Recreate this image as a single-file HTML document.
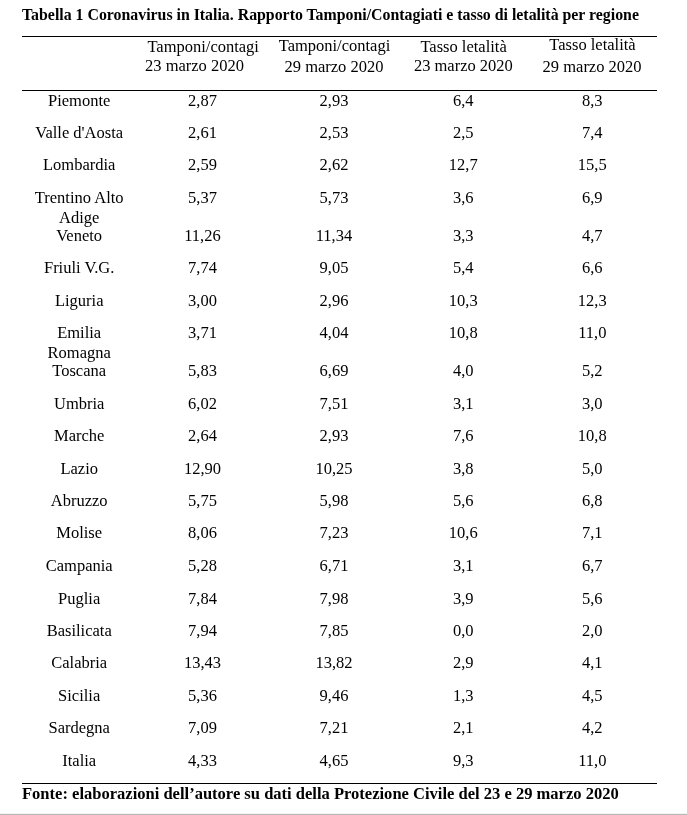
<!DOCTYPE html>
<html><head><meta charset="utf-8">
<style>
html,body{margin:0;padding:0;background:#fff;}
body{width:687px;height:815px;position:relative;overflow:hidden;font-family:"Liberation Serif",serif;color:#000;}
.t{position:absolute;text-align:center;font-size:16.5px;line-height:19.3px;white-space:nowrap;}
.b{position:absolute;font-weight:bold;white-space:nowrap;}
.ln{position:absolute;left:22px;width:635px;height:1px;background:#000;}
</style></head><body><div id="w" style="position:absolute;left:0;top:0;width:687px;height:815px;will-change:transform">
<div class="b" style="left:22px;top:6.45px;font-size:15.85px;line-height:18.4px">Tabella 1 Coronavirus in Italia. Rapporto Tamponi/Contagiati e tasso di letalità per regione</div>
<div class="ln" style="top:36px"></div>
<div class="ln" style="top:90px"></div>
<div class="ln" style="top:783px"></div>
<div class="t" style="left:123.20px;top:37.08px;width:160px;">Tamponi/contagi</div>
<div class="t" style="left:114.50px;top:55.68px;width:160px;">23 marzo 2020</div>
<div class="t" style="left:254.50px;top:35.98px;width:160px;">Tamponi/contagi</div>
<div class="t" style="left:254.00px;top:57.08px;width:160px;">29 marzo 2020</div>
<div class="t" style="left:383.60px;top:36.58px;width:160px;">Tasso letalità</div>
<div class="t" style="left:383.40px;top:56.08px;width:160px;">23 marzo 2020</div>
<div class="t" style="left:512.50px;top:35.28px;width:160px;">Tasso letalità</div>
<div class="t" style="left:512.10px;top:56.58px;width:160px;">29 marzo 2020</div>
<div class="t" style="left:14.20px;top:91.38px;width:130px;">Piemonte</div>
<div class="t" style="left:152.50px;top:91.38px;width:100px;">2,87</div>
<div class="t" style="left:284.00px;top:91.38px;width:100px;">2,93</div>
<div class="t" style="left:413.30px;top:91.38px;width:100px;">6,4</div>
<div class="t" style="left:542.30px;top:91.38px;width:100px;">8,3</div>
<div class="t" style="left:14.20px;top:123.38px;width:130px;">Valle d'Aosta</div>
<div class="t" style="left:152.50px;top:123.38px;width:100px;">2,61</div>
<div class="t" style="left:284.00px;top:123.38px;width:100px;">2,53</div>
<div class="t" style="left:413.30px;top:123.38px;width:100px;">2,5</div>
<div class="t" style="left:542.30px;top:123.38px;width:100px;">7,4</div>
<div class="t" style="left:14.20px;top:154.88px;width:130px;">Lombardia</div>
<div class="t" style="left:152.50px;top:154.88px;width:100px;">2,59</div>
<div class="t" style="left:284.00px;top:154.88px;width:100px;">2,62</div>
<div class="t" style="left:413.30px;top:154.88px;width:100px;">12,7</div>
<div class="t" style="left:542.30px;top:154.88px;width:100px;">15,5</div>
<div class="t" style="left:14.20px;top:188.38px;width:130px;">Trentino Alto<br>Adige</div>
<div class="t" style="left:152.50px;top:188.38px;width:100px;">5,37</div>
<div class="t" style="left:284.00px;top:188.38px;width:100px;">5,73</div>
<div class="t" style="left:413.30px;top:188.38px;width:100px;">3,6</div>
<div class="t" style="left:542.30px;top:188.38px;width:100px;">6,9</div>
<div class="t" style="left:14.20px;top:225.88px;width:130px;">Veneto</div>
<div class="t" style="left:152.50px;top:225.88px;width:100px;">11,26</div>
<div class="t" style="left:284.00px;top:225.88px;width:100px;">11,34</div>
<div class="t" style="left:413.30px;top:225.88px;width:100px;">3,3</div>
<div class="t" style="left:542.30px;top:225.88px;width:100px;">4,7</div>
<div class="t" style="left:14.20px;top:258.38px;width:130px;">Friuli V.G.</div>
<div class="t" style="left:152.50px;top:258.38px;width:100px;">7,74</div>
<div class="t" style="left:284.00px;top:258.38px;width:100px;">9,05</div>
<div class="t" style="left:413.30px;top:258.38px;width:100px;">5,4</div>
<div class="t" style="left:542.30px;top:258.38px;width:100px;">6,6</div>
<div class="t" style="left:14.20px;top:291.38px;width:130px;">Liguria</div>
<div class="t" style="left:152.50px;top:291.38px;width:100px;">3,00</div>
<div class="t" style="left:284.00px;top:291.38px;width:100px;">2,96</div>
<div class="t" style="left:413.30px;top:291.38px;width:100px;">10,3</div>
<div class="t" style="left:542.30px;top:291.38px;width:100px;">12,3</div>
<div class="t" style="left:14.20px;top:323.38px;width:130px;">Emilia<br>Romagna</div>
<div class="t" style="left:152.50px;top:323.38px;width:100px;">3,71</div>
<div class="t" style="left:284.00px;top:323.38px;width:100px;">4,04</div>
<div class="t" style="left:413.30px;top:323.38px;width:100px;">10,8</div>
<div class="t" style="left:542.30px;top:323.38px;width:100px;">11,0</div>
<div class="t" style="left:14.20px;top:360.88px;width:130px;">Toscana</div>
<div class="t" style="left:152.50px;top:360.88px;width:100px;">5,83</div>
<div class="t" style="left:284.00px;top:360.88px;width:100px;">6,69</div>
<div class="t" style="left:413.30px;top:360.88px;width:100px;">4,0</div>
<div class="t" style="left:542.30px;top:360.88px;width:100px;">5,2</div>
<div class="t" style="left:14.20px;top:393.88px;width:130px;">Umbria</div>
<div class="t" style="left:152.50px;top:393.88px;width:100px;">6,02</div>
<div class="t" style="left:284.00px;top:393.88px;width:100px;">7,51</div>
<div class="t" style="left:413.30px;top:393.88px;width:100px;">3,1</div>
<div class="t" style="left:542.30px;top:393.88px;width:100px;">3,0</div>
<div class="t" style="left:14.20px;top:426.38px;width:130px;">Marche</div>
<div class="t" style="left:152.50px;top:426.38px;width:100px;">2,64</div>
<div class="t" style="left:284.00px;top:426.38px;width:100px;">2,93</div>
<div class="t" style="left:413.30px;top:426.38px;width:100px;">7,6</div>
<div class="t" style="left:542.30px;top:426.38px;width:100px;">10,8</div>
<div class="t" style="left:14.20px;top:458.68px;width:130px;">Lazio</div>
<div class="t" style="left:152.50px;top:458.68px;width:100px;">12,90</div>
<div class="t" style="left:284.00px;top:458.68px;width:100px;">10,25</div>
<div class="t" style="left:413.30px;top:458.68px;width:100px;">3,8</div>
<div class="t" style="left:542.30px;top:458.68px;width:100px;">5,0</div>
<div class="t" style="left:14.20px;top:490.68px;width:130px;">Abruzzo</div>
<div class="t" style="left:152.50px;top:490.68px;width:100px;">5,75</div>
<div class="t" style="left:284.00px;top:490.68px;width:100px;">5,98</div>
<div class="t" style="left:413.30px;top:490.68px;width:100px;">5,6</div>
<div class="t" style="left:542.30px;top:490.68px;width:100px;">6,8</div>
<div class="t" style="left:14.20px;top:522.88px;width:130px;">Molise</div>
<div class="t" style="left:152.50px;top:522.88px;width:100px;">8,06</div>
<div class="t" style="left:284.00px;top:522.88px;width:100px;">7,23</div>
<div class="t" style="left:413.30px;top:522.88px;width:100px;">10,6</div>
<div class="t" style="left:542.30px;top:522.88px;width:100px;">7,1</div>
<div class="t" style="left:14.20px;top:555.98px;width:130px;">Campania</div>
<div class="t" style="left:152.50px;top:555.98px;width:100px;">5,28</div>
<div class="t" style="left:284.00px;top:555.98px;width:100px;">6,71</div>
<div class="t" style="left:413.30px;top:555.98px;width:100px;">3,1</div>
<div class="t" style="left:542.30px;top:555.98px;width:100px;">6,7</div>
<div class="t" style="left:14.20px;top:588.68px;width:130px;">Puglia</div>
<div class="t" style="left:152.50px;top:588.68px;width:100px;">7,84</div>
<div class="t" style="left:284.00px;top:588.68px;width:100px;">7,98</div>
<div class="t" style="left:413.30px;top:588.68px;width:100px;">3,9</div>
<div class="t" style="left:542.30px;top:588.68px;width:100px;">5,6</div>
<div class="t" style="left:14.20px;top:621.08px;width:130px;">Basilicata</div>
<div class="t" style="left:152.50px;top:621.08px;width:100px;">7,94</div>
<div class="t" style="left:284.00px;top:621.08px;width:100px;">7,85</div>
<div class="t" style="left:413.30px;top:621.08px;width:100px;">0,0</div>
<div class="t" style="left:542.30px;top:621.08px;width:100px;">2,0</div>
<div class="t" style="left:14.20px;top:652.98px;width:130px;">Calabria</div>
<div class="t" style="left:152.50px;top:652.98px;width:100px;">13,43</div>
<div class="t" style="left:284.00px;top:652.98px;width:100px;">13,82</div>
<div class="t" style="left:413.30px;top:652.98px;width:100px;">2,9</div>
<div class="t" style="left:542.30px;top:652.98px;width:100px;">4,1</div>
<div class="t" style="left:14.20px;top:685.98px;width:130px;">Sicilia</div>
<div class="t" style="left:152.50px;top:685.98px;width:100px;">5,36</div>
<div class="t" style="left:284.00px;top:685.98px;width:100px;">9,46</div>
<div class="t" style="left:413.30px;top:685.98px;width:100px;">1,3</div>
<div class="t" style="left:542.30px;top:685.98px;width:100px;">4,5</div>
<div class="t" style="left:14.20px;top:718.08px;width:130px;">Sardegna</div>
<div class="t" style="left:152.50px;top:718.08px;width:100px;">7,09</div>
<div class="t" style="left:284.00px;top:718.08px;width:100px;">7,21</div>
<div class="t" style="left:413.30px;top:718.08px;width:100px;">2,1</div>
<div class="t" style="left:542.30px;top:718.08px;width:100px;">4,2</div>
<div class="t" style="left:14.20px;top:750.78px;width:130px;">Italia</div>
<div class="t" style="left:152.50px;top:750.78px;width:100px;">4,33</div>
<div class="t" style="left:284.00px;top:750.78px;width:100px;">4,65</div>
<div class="t" style="left:413.30px;top:750.78px;width:100px;">9,3</div>
<div class="t" style="left:542.30px;top:750.78px;width:100px;">11,0</div>
<div class="b" style="left:22px;top:784.91px;font-size:16.55px;line-height:18.4px">Fonte: elaborazioni dell’autore su dati della Protezione Civile del 23 e 29 marzo 2020</div>
<div style="position:absolute;left:0;top:813px;width:687px;height:1px;background:#f3f3f3"></div>
<div style="position:absolute;left:0;top:814px;width:687px;height:1px;background:#b9b9b9"></div>
</div></body></html>
